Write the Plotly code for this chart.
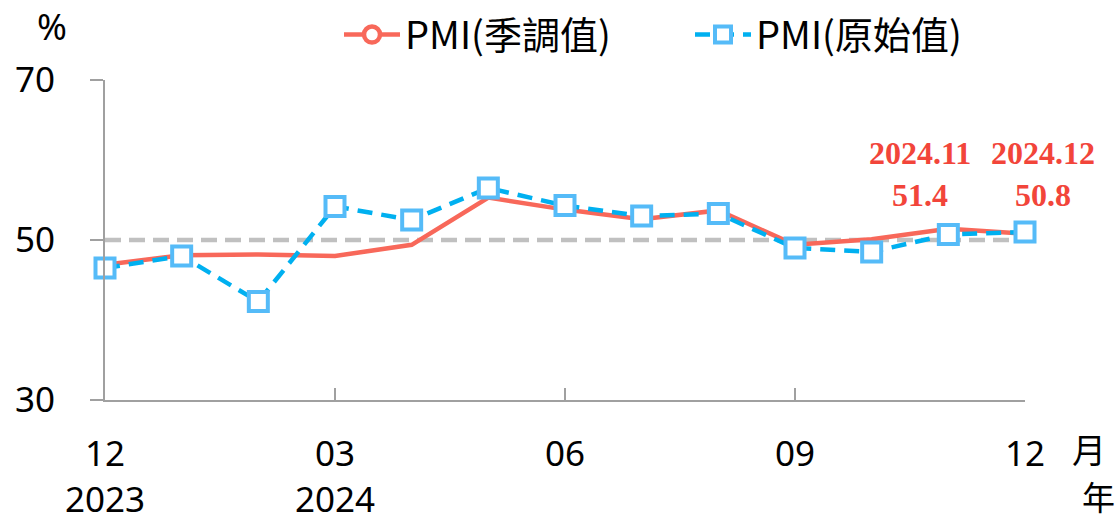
import plotly.graph_objects as go

months = ["2023-12", "2024-01", "2024-02", "2024-03", "2024-04", "2024-05", "2024-06",
          "2024-07", "2024-08", "2024-09", "2024-10", "2024-11", "2024-12"]
pmi_sa = [46.9, 48.1, 48.2, 48.0, 49.4, 55.3, 53.8, 52.6, 53.7, 49.4, 50.1, 51.4, 50.8]
pmi_raw = [46.5, 48.0, 42.3, 54.2, 52.5, 56.5, 54.3, 53.0, 53.3, 49.0, 48.5, 50.7, 51.0]
tick_idx = [0, 3, 6, 9, 12]
tick_text = ["12<br>2023", "03<br>2024", "06", "09", "12"]
reference_level = 50
label_idx = [11, 12]
label_text = ["2024.11<br>51.4", "2024.12<br>50.8"]

x = list(range(len(months)))

RED = "#F8685A"
BLUE_LINE = "#00B0F0"
BLUE_MK = "#55BBF8"
LABEL_RED = "#F2453A"
CJK = "Noto Sans CJK TC"

fig = go.Figure()

fig.add_shape(type="line", xref="x", yref="y", x0=x[0], x1=x[-1],
              y0=reference_level, y1=reference_level,
              line=dict(color="#C0C0C0", width=4.5, dash="16px,8px"), layer="below")

fig.add_trace(go.Scatter(x=x, y=pmi_sa, mode="lines", name="PMI(季調值)",
                         line=dict(color=RED, width=4.5), showlegend=False,
                         cliponaxis=False, hoverinfo="skip"))
fig.add_trace(go.Scatter(x=[None], y=[None], mode="lines+markers", name="PMI(季調值)",
                         line=dict(color=RED, width=4.5), legend="legend",
                         marker=dict(symbol="circle", size=18, color="white",
                                     line=dict(color=RED, width=4.5))))
fig.add_trace(go.Scatter(x=x, y=pmi_raw, mode="lines+markers", name="PMI(原始值)",
                         line=dict(color=BLUE_LINE, width=4.5, dash="15px,9px"),
                         marker=dict(symbol="square", size=19, color="white",
                                     line=dict(color=BLUE_MK, width=4)),
                         cliponaxis=False, legend="legend2"))

shifts = {11: -28, 12: 18}
for i, t in zip(label_idx, label_text):
    fig.add_annotation(x=x[i], xref="x", yref="paper", y=0.578, text=t, showarrow=False,
                       xshift=shifts[i], yanchor="bottom", xanchor="center",
                       font=dict(family="Liberation Serif", size=32, color=LABEL_RED, weight="bold"),
                       align="center")

fig.add_annotation(xref="paper", yref="paper", x=-0.0576, y=1.166, text="%",
                   xanchor="center", yanchor="middle",
                   showarrow=False, font=dict(family="Noto Sans", size=36, color="black"))
fig.add_annotation(xref="paper", yref="paper", x=1.0696, y=-0.15, text="月",
                   xanchor="center", yanchor="middle",
                   showarrow=False, font=dict(family=CJK, size=34, color="black"))
fig.add_annotation(xref="paper", yref="paper", x=1.0804, y=-0.30, text="年",
                   xanchor="center", yanchor="middle",
                   showarrow=False, font=dict(family=CJK, size=33, color="black"))

leg_common = dict(orientation="h", yref="container", y=0.933, yanchor="middle",
                  xref="container", xanchor="left",
                  font=dict(family=CJK, size=38, color="black"),
                  bgcolor="rgba(0,0,0,0)", itemwidth=56)

fig.update_layout(
    width=1120, height=521,
    margin=dict(l=105, r=95, t=80, b=121, autoexpand=False),
    plot_bgcolor="white", paper_bgcolor="white",
    showlegend=True,
    legend=dict(x=339 / 1120, **leg_common),
    legend2=dict(x=690 / 1120, **leg_common),
    xaxis=dict(range=[0, 12], tickvals=[x[i] for i in tick_idx], ticktext=tick_text,
               showgrid=False, zeroline=False, showline=True, linecolor="#A0A0A0", linewidth=2,
               ticks="inside", ticklen=12, tickcolor="#A0A0A0", tickwidth=2,
               ticklabelstandoff=22, automargin=False,
               tickfont=dict(family="Noto Sans", size=35, color="black")),
    yaxis=dict(range=[30, 70], tickvals=[30, 50, 70], showgrid=False, zeroline=False,
               showline=True, linecolor="#A0A0A0", linewidth=2,
               ticks="outside", ticklen=13, tickcolor="#A0A0A0", tickwidth=2,
               ticklabelstandoff=28, automargin=False,
               tickfont=dict(family="Noto Sans", size=35, color="black")),
)

fig.write_html("out.html", config={"displayModeBar": False},
               post_script="document.body.style.margin='0';document.body.style.padding='0';")
